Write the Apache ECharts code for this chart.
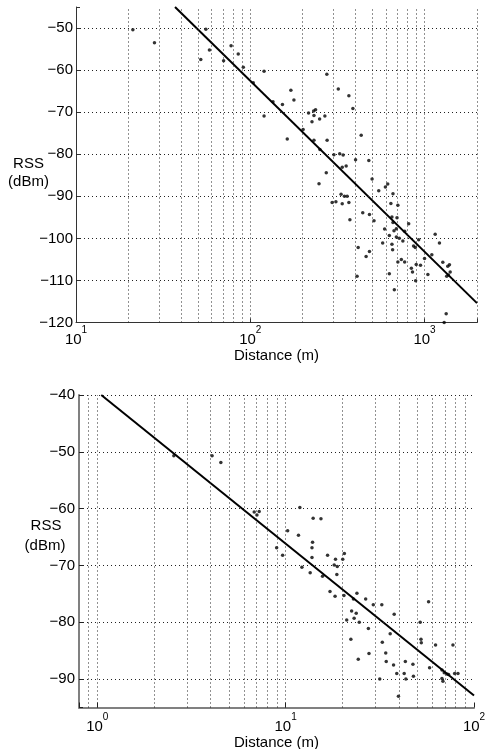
<!DOCTYPE html>
<html>
<head>
<meta charset="utf-8">
<script src="https://cdn.jsdelivr.net/npm/echarts@6/dist/echarts.min.js"></script>
<style>
html,body{margin:0;padding:0;background:#fff;}
#c{width:485px;height:749px;}
</style>
</head>
<body>
<div id="c"></div>
<script>
// ---------- Top panel data ----------
const topDistance = [21.2,28.2,55.6,52,58.3,77.6,85.3,70.3,91.2,120,104,171,178,135,153,120,163,275,320,368,388,433,402,479,500,
  216,231,237,232,250,268,226,201,232,276,251,302,326,341,337,355,273,248,615,596,546,659,332,347,360,295,310,337,368,641,703,
  373,442,483,513,650,659,695,811,590,628,668,689,769,575,650,656,689,716,751,925,865,885,1151,1218,416,483,462,1000,1101,
  703,736,769,896,948,840,853,1273,1359,1390,1403,1371,1340,1045,410,628,889,671,1331,1296];
const topRSS = [-50.4,-53.5,-50.3,-57.5,-55.2,-54.2,-56.2,-57.8,-59.3,-60.3,-63.0,-64.8,-67.1,-67.5,-68.2,-70.9,-76.4,-61.0,-64.5,-66.1,-69.1,-75.5,-81.3,-81.5,-85.9,
  -70.2,-69.7,-69.4,-70.8,-71.6,-70.9,-72.3,-74.1,-76.7,-76.7,-78.9,-80.1,-79.9,-80.2,-83.1,-82.8,-84.4,-87.0,-87.1,-87.8,-88.7,-89.4,-89.5,-90.0,-90.0,-91.5,-91.3,-91.8,-91.5,-91.7,-92.1,
  -95.6,-93.9,-94.3,-95.8,-94.9,-96.2,-95.1,-96.5,-97.8,-99.3,-98.2,-97.7,-98.3,-101.1,-101.4,-102.7,-99.7,-100.0,-100.6,-100.3,-101.8,-102.2,-99.0,-101.1,-102.2,-103.1,-104.3,-104.8,-103.9,
  -105.6,-105.0,-105.6,-106.2,-106.4,-107.1,-108.0,-105.7,-106.6,-106.3,-108.0,-108.7,-109.0,-108.6,-109.0,-108.4,-110.1,-112.2,-117.9,-120.0];
const topFitDistance = [37, 2000];
const topFitRSS = [-45, -115.4];
const topYTicks = [-120,-110,-100,-90,-80,-70,-60,-50];
const topXGrid = [20,30,40,50,60,70,80,90,100,200,300,400,500,600,700,800,900,1000,2000];
const topYGrid = [-110,-100,-90,-80,-70,-60,-50];

// ---------- Bottom panel data ----------
const botDistance = [2.55,4.07,4.53,6.81,7.04,7.24,11.9,14.0,15.4,10.25,11.7,13.9,13.8,8.96,9.64,13.8,12.2,13.5,16.7,20.5,20.1,18.1,18.8,18.4,18.7,15.7,
  17.2,18.3,20.4,22.9,23.9,26.6,29.2,32.4,37.7,57.4,22.4,23.7,23.1,21.1,24.6,27.5,35.9,32.6,51.8,52.3,52.5,62.5,77.3,22.2,34.0,27.7,24.3,34.2,37.4,43.2,47.4,58.1,
  38.9,42.6,43.5,47.7,31.6,39.7,67.6,69.5,71.8,73.3,67.6,68.4,78.9,82.2];
const botRSS = [-50.7,-50.7,-51.9,-60.6,-61.1,-60.5,-59.8,-61.7,-61.8,-63.9,-64.7,-65.9,-66.9,-66.9,-68.2,-68.6,-70.3,-71.3,-68.2,-67.9,-68.9,-69.9,-70.2,-68.9,-71.6,-71.9,
  -74.6,-75.4,-75.3,-75.9,-74.9,-75.9,-76.9,-76.9,-78.6,-76.4,-78.0,-78.4,-79.3,-79.6,-80.0,-81.1,-82.0,-83.5,-80.0,-83.0,-83.6,-84.0,-84.0,-83.0,-85.4,-85.5,-86.5,-86.9,-87.5,-86.9,-87.4,-88.0,
  -89.0,-89.0,-90.0,-89.5,-90.0,-93.0,-88.4,-88.9,-89.1,-89.2,-89.9,-90.4,-89.0,-89.0];
const botFitDistance = [1.05, 100];
const botFitRSS = [-40, -92.9];
const botYTicks = [-90,-80,-70,-60,-50,-40];
const botXGrid = [0.9,1,2,3,4,5,6,7,8,9,10,20,30,40,50,60,70,80,90];
const botYGrid = [-90,-80,-70,-60,-50,-40];

const yTitleLines = ['RSS', '(dBm)'];

const FONT = '"Liberation Sans", Arial, Helvetica, sans-serif';
const pairs = (xs, ys) => xs.map((x, i) => [x, ys[i]]);

function expLabel(v) {
  const e = Math.log10(v), r = Math.round(e);
  if (Math.abs(e - r) > 1e-6) return '';
  return '{b|10}{s|' + r + '}';
}
function yLabelFactory(ticks) {
  return function (v) {
    if (ticks.indexOf(Math.round(v)) < 0 || Math.abs(v - Math.round(v)) > 1e-6) return '';
    return v < 0 ? '\u2212' + Math.abs(v) : String(v);
  };
}
const richX = {
  b: {fontSize: 15, fontFamily: FONT, color: '#000', lineHeight: 22, verticalAlign: 'bottom'},
  s: {fontSize: 10, fontFamily: FONT, color: '#000', lineHeight: 10, verticalAlign: 'top'}
};
const gridLineStyle = {type: [1, 3], color: '#222', width: 1};

function gridSeries(idx, xs, ys) {
  return {
    type: 'line', xAxisIndex: idx, yAxisIndex: idx, data: [], z: 1, silent: true,
    markLine: {
      silent: true, symbol: ['none', 'none'], label: {show: false}, animation: false,
      lineStyle: gridLineStyle, emphasis: {disabled: true},
      data: xs.map(v => ({xAxis: v})).concat(ys.map(v => ({yAxis: v})))
    }
  };
}
function titleText(x, y, txt) {
  return {type: 'text', x: x, y: y, silent: true,
    style: {text: txt, fontSize: 15, fontFamily: FONT, fill: '#000', align: 'center', verticalAlign: 'middle'}};
}

const chart = echarts.init(document.getElementById('c'), null, {renderer: 'canvas'});
chart.setOption({
  animation: false,
  backgroundColor: '#fff',
  textStyle: {fontFamily: FONT},
  grid: [
    {left: 76, right: 8, top: 7, bottom: 426.5, containLabel: false, outerBoundsMode: 'none'},
    {left: 79, right: 11, top: 395, bottom: 41.5, containLabel: false, outerBoundsMode: 'none'}
  ],
  graphic: [
    titleText(28.5, 164, yTitleLines[0]),
    titleText(28.5, 182, yTitleLines[1]),
    titleText(46, 526, yTitleLines[0]),
    titleText(45, 546, yTitleLines[1])
  ],
  xAxis: [
    {
      type: 'log', logBase: 10, gridIndex: 0, min: 10, max: 2000,
      name: 'Distance (m)', nameLocation: 'middle', nameGap: 16,
      nameTextStyle: {fontSize: 15, color: '#000', fontFamily: FONT, verticalAlign: 'top'},
      axisLine: {show: true, onZero: false, lineStyle: {color: '#333', width: 1}},
      axisTick: {show: true, inside: true, length: 4, lineStyle: {color: '#333'}},
      axisLabel: {formatter: expLabel, rich: richX, margin: 3, showMinLabel: true, showMaxLabel: true,
        alignMinLabel: 'center', alignMaxLabel: 'center', hideOverlap: false},
      splitLine: {show: false}, minorTick: {show: false}
    },
    {
      type: 'log', logBase: 10, gridIndex: 1, min: 0.8, max: 100,
      name: 'Distance (m)', nameLocation: 'middle', nameGap: 21,
      nameTextStyle: {fontSize: 15, color: '#000', fontFamily: FONT, verticalAlign: 'top'},
      axisLine: {show: true, onZero: false, lineStyle: {color: '#808080', width: 2}},
      axisTick: {show: true, inside: true, length: 5, lineStyle: {color: '#222'}},
      axisLabel: {formatter: expLabel, rich: richX, margin: 5, showMinLabel: true, showMaxLabel: true,
        alignMinLabel: 'center', alignMaxLabel: 'center', hideOverlap: false},
      splitLine: {show: false}, minorTick: {show: false}
    }
  ],
  yAxis: [
    {
      type: 'value', gridIndex: 0, min: -120, max: -45, interval: 10,
      axisLine: {show: true, onZero: false, lineStyle: {color: '#333', width: 1}},
      axisTick: {show: true, inside: true, length: 4, lineStyle: {color: '#333'}},
      axisLabel: {formatter: yLabelFactory(topYTicks), fontSize: 15, color: '#000', fontFamily: FONT, margin: 3},
      splitLine: {show: false}
    },
    {
      type: 'value', gridIndex: 1, min: -95, max: -40, splitNumber: 5,
      axisLine: {show: true, onZero: false, lineStyle: {color: '#808080', width: 2}},
      axisTick: {show: true, inside: true, length: 4, lineStyle: {color: '#222'}},
      axisLabel: {formatter: yLabelFactory(botYTicks), fontSize: 15, color: '#000', fontFamily: FONT, margin: 4},
      splitLine: {show: false}
    }
  ],
  series: [
    gridSeries(0, topXGrid, topYGrid),
    gridSeries(1, botXGrid, botYGrid),
    {
      type: 'line', xAxisIndex: 0, yAxisIndex: 0, data: pairs(topFitDistance, topFitRSS),
      symbol: 'none', lineStyle: {color: '#000', width: 2}, z: 3, silent: true
    },
    {
      type: 'line', xAxisIndex: 1, yAxisIndex: 1, data: pairs(botFitDistance, botFitRSS),
      symbol: 'none', lineStyle: {color: '#000', width: 2}, z: 3, silent: true
    },
    {
      type: 'scatter', xAxisIndex: 0, yAxisIndex: 0, data: pairs(topDistance, topRSS),
      symbol: 'circle', symbolSize: 3.5, itemStyle: {color: '#000'}, z: 4, silent: true
    },
    {
      type: 'scatter', xAxisIndex: 1, yAxisIndex: 1, data: pairs(botDistance, botRSS),
      symbol: 'circle', symbolSize: 3.5, itemStyle: {color: '#000'}, z: 4, silent: true
    }
  ]
});
</script>
</body>
</html>
